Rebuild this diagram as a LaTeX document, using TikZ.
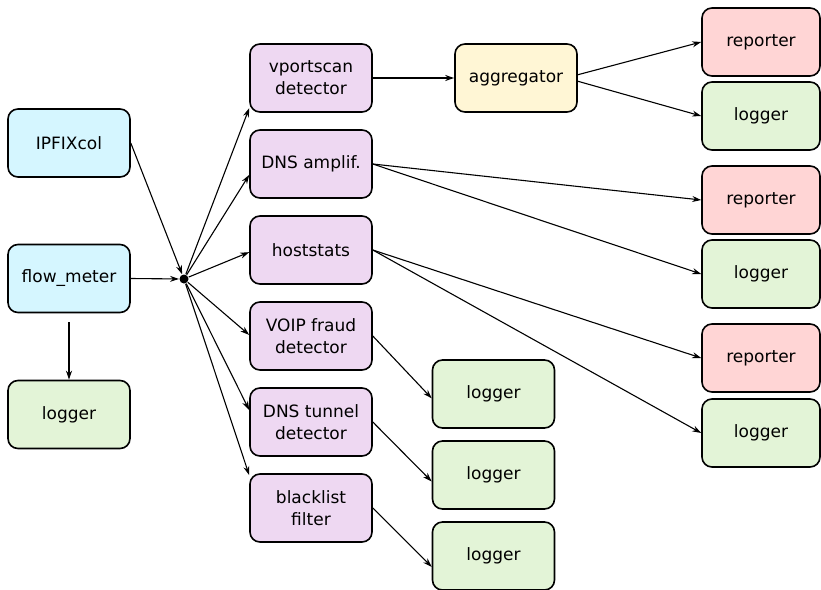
\documentclass[tikz,border=0pt]{standalone}
\usepackage{fontspec}
\setmainfont{DejaVu Sans}
\usetikzlibrary{arrows.meta}
\definecolor{srcfill}{HTML}{D5F6FF}
\definecolor{detfill}{HTML}{EED8F2}
\definecolor{aggfill}{HTML}{FFF6D5}
\definecolor{repfill}{HTML}{FFD5D5}
\definecolor{logfill}{HTML}{E3F4D7}
\begin{document}
\begin{tikzpicture}[
    x=1pt, y=-1pt,
    box/.style={rectangle, draw, line width=1.6pt, rounded corners=10pt,
      minimum width=122pt, minimum height=68pt, align=center,
      font=\fontsize{17}{22}\selectfont},
    src/.style={box, fill=srcfill},
    det/.style={box, fill=detfill},
    agg/.style={box, fill=aggfill},
    rep/.style={box, fill=repfill, minimum width=118pt},
    logbox/.style={box, fill=logfill},
    >={Stealth[length=9pt,width=6pt]},
    every path/.style={line width=1.1pt}
  ]
  \useasboundingbox (0,0) rectangle (821,589);
  \node[src] (ipfix) at (69,143) {IPFIXcol};
  \node[src] (fm) at (69,278.5) {flow\_meter};
  \node[logbox] (log0) at (69,414.5) {logger};
  \node[circle, fill, inner sep=0pt, minimum size=9pt] (hub) at (184,279) {};
  \node[det] (vps) at (311,78) {vportscan\\detector};
  \node[det] (amp) at (311,164) {DNS amplif.};
  \node[det] (hs) at (311,250) {hoststats};
  \node[det] (voip) at (311,336) {VOIP fraud\\detector};
  \node[det] (tun) at (311,422) {DNS tunnel\\detector};
  \node[det] (bl) at (311,508) {blacklist\\filter};
  \node[agg] (agg) at (516,78) {aggregator};
  \node[logbox] (log4) at (493.5,394) {logger};
  \node[logbox] (log5) at (493.5,475) {logger};
  \node[logbox] (log6) at (493.5,556) {logger};
  \node[rep] (rep1) at (761,42) {reporter};
  \node[logbox, minimum width=118pt] (log1) at (761,116) {logger};
  \node[rep] (rep2) at (761,200) {reporter};
  \node[logbox, minimum width=118pt] (log2) at (761,274) {logger};
  \node[rep] (rep3) at (761,358) {reporter};
  \node[logbox, minimum width=118pt] (log3) at (761,433) {logger};
  % inputs
  \draw[->] (ipfix.east) -- (hub);
  \draw[->] (fm.east) -- (hub);
  \draw[->, shorten <=9pt] (fm.south) -- (log0.north);
  % detectors
  \draw[->] (hub) -- (vps.206);
  \draw[->] (hub) -- (amp.190);
  \draw[->] (hub) -- (hs.182);
  \draw[->] (hub) -- (voip.179);
  \draw[->] (hub) -- (tun.169);
  \draw[->] (hub) -- (bl.152);
  % outputs
  \draw[->] (vps.east) -- (agg.west);
  \draw[->] (agg.3) -- (rep1.west);
  \draw[->] (agg.-3) -- (log1.west);
  \draw[->] (amp.east) -- (rep2.west);
  \draw[->] (amp.east) -- (log2.west);
  \draw[->] (hs.east) -- (rep3.west);
  \draw[->] (hs.east) -- (log3.west);
  \draw[->] (voip.east) -- (log4.184);
  \draw[->] (tun.east) -- (log5.186);
  \draw[->] (bl.east) -- (log6.190);
\end{tikzpicture}
\end{document}
